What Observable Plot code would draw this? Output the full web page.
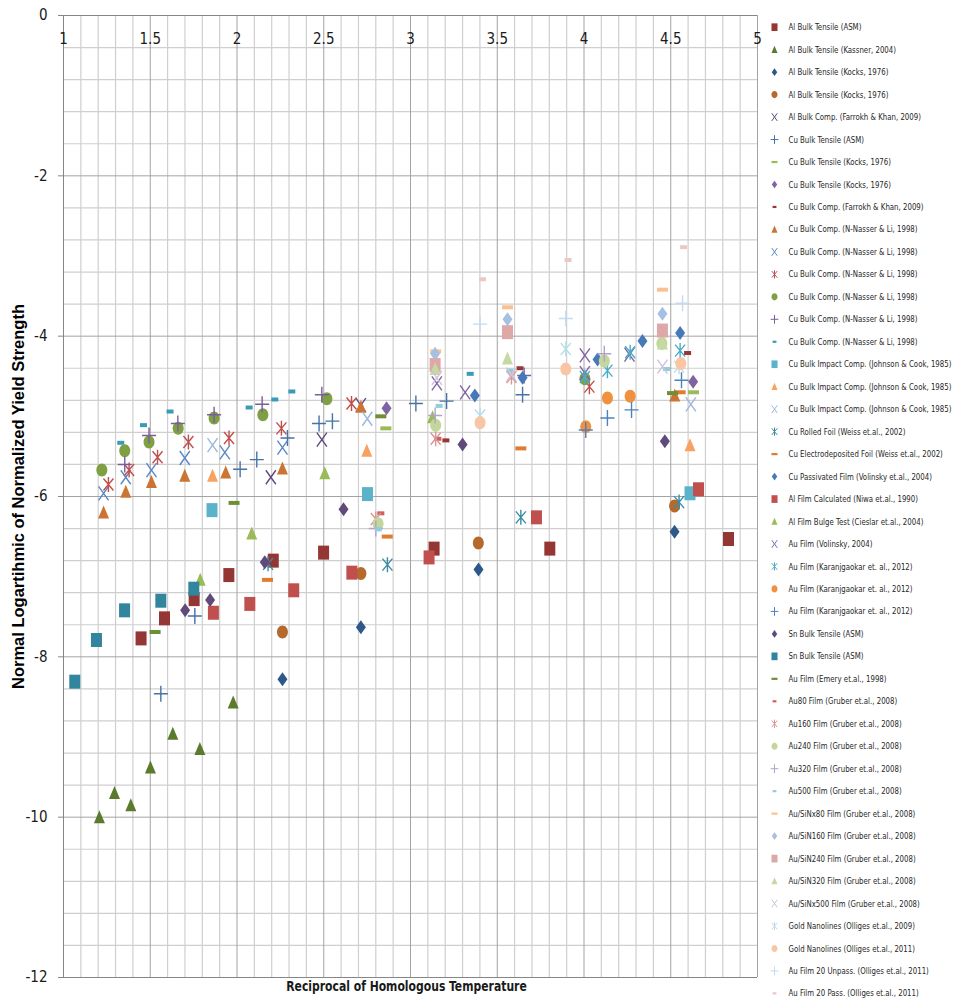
<!DOCTYPE html>
<html><head><meta charset="utf-8">
<script src="https://cdn.jsdelivr.net/npm/d3@7"></script>
<script src="https://cdn.jsdelivr.net/npm/@observablehq/plot@0.6"></script>
<style>
body{margin:0;background:#fff;}
#wrap{position:relative;width:959px;height:1004px;overflow:hidden;background:#fff;}
#main{position:absolute;left:0;top:0;}
#legend{position:absolute;left:765px;top:0;}
#legend svg{overflow:visible;}
</style></head><body><div id="wrap"><div id="main"></div><div id="legend"></div></div>
<script>
// ---- axis ticks ----
const xMajor = [1, 1.5, 2, 2.5, 3, 3.5, 4, 4.5, 5];
const xTickLabels = ["1", "1.5", "2", "2.5", "3", "3.5", "4", "4.5", "5"];
const yMajor = [0, -2, -4, -6, -8, -10, -12];
const yTickLabels = ["0", "-2", "-4", "-6", "-8", "-10", "-12"];

// ---- series names (legend order) ----
const seriesNames = [
  "Al Bulk Tensile (ASM)",
  "Al Bulk Tensile (Kassner, 2004)",
  "Al Bulk Tensile (Kocks, 1976)",
  "Al Bulk Tensile (Kocks, 1976)",
  "Al Bulk Comp. (Farrokh & Khan, 2009)",
  "Cu Bulk Tensile (ASM)",
  "Cu Bulk Tensile (Kocks, 1976)",
  "Cu Bulk Tensile (Kocks, 1976)",
  "Cu Bulk Comp. (Farrokh & Khan, 2009)",
  "Cu Bulk Comp. (N-Nasser & Li, 1998)",
  "Cu Bulk Comp. (N-Nasser & Li, 1998)",
  "Cu Bulk Comp. (N-Nasser & Li, 1998)",
  "Cu Bulk Comp. (N-Nasser & Li, 1998)",
  "Cu Bulk Comp. (N-Nasser & Li, 1998)",
  "Cu Bulk Comp. (N-Nasser & Li, 1998)",
  "Cu Bulk Impact Comp. (Johnson & Cook, 1985)",
  "Cu Bulk Impact Comp. (Johnson & Cook, 1985)",
  "Cu Bulk Impact Comp. (Johnson & Cook, 1985)",
  "Cu Rolled Foil (Weiss et.al., 2002)",
  "Cu Electrodeposited Foil (Weiss et.al., 2002)",
  "Cu Passivated Film (Volinsky et.al., 2004)",
  "Al Film Calculated (Niwa et.al., 1990)",
  "Al Film Bulge Test (Cieslar et.al., 2004)",
  "Au Film (Volinsky, 2004)",
  "Au Film (Karanjgaokar et. al., 2012)",
  "Au Film (Karanjgaokar et. al., 2012)",
  "Au Film (Karanjgaokar et. al., 2012)",
  "Sn Bulk Tensile (ASM)",
  "Sn Bulk Tensile (ASM)",
  "Au Film (Emery et.al., 1998)",
  "Au80 Film (Gruber et.al., 2008)",
  "Au160 Film (Gruber et.al., 2008)",
  "Au240 Film (Gruber et.al., 2008)",
  "Au320 Film (Gruber et.al., 2008)",
  "Au500 Film (Gruber et.al., 2008)",
  "Au/SiNx80 Film (Gruber et.al., 2008)",
  "Au/SiN160 Film (Gruber et.al., 2008)",
  "Au/SiN240 Film (Gruber et.al., 2008)",
  "Au/SiN320 Film (Gruber et.al., 2008)",
  "Au/SiNx500 Film (Gruber et.al., 2008)",
  "Gold Nanolines (Olliges et.al., 2009)",
  "Gold Nanolines (Olliges et.al., 2011)",
  "Au Film 20 Unpass. (Olliges et.al., 2011)",
  "Au Film 20 Pass. (Olliges et.al., 2011)"
];
const seriesShapes = ["sq","tri","dia","circ","x","plus","dash","dia","dashS","tri","x","ast","circ","plus","dashS",
  "sq","tri","x","ast","dash","dia","sq","tri","x","ast","circ","plus","dia","sq","dash",
  "dashS","ast","circ","plus","dashS","dash","dia","sq","tri","x","ast","circ","plus","dashS"];
const seriesColors = ["#943634","#5A7A2C","#2D5889","#B5692C","#604A7B","#4572A7","#9BBB59","#8064A2","#953735","#CC7433",
  "#5B87C5","#C0504D","#7F9F43","#7B5D9E","#3A9BB6","#5BB3CB","#F8A262","#9BB7DE","#3A8CA4","#E07B30",
  "#4579B8","#C0504D","#9BBB59","#8064A2","#4BACC6","#F0913F","#4F81BD","#604A7B","#31859C","#6F8F37",
  "#D0605E","#D99694","#C3D69B","#B3A2C7","#93CDDD","#FAC090","#A7BFE0","#DCA9A8","#C6D9A2","#CCC1DA",
  "#B7DEE8","#F9C6A5","#C6D9F1","#EBC8C7"];

// ---- series values [x, y] ----
const alBulkTensileASM = [[1.447,-7.77],[1.582,-7.52],[1.753,-7.28],[1.953,-6.98],[2.209,-6.80],[2.499,-6.70],[3.136,-6.65],[3.803,-6.65],[4.833,-6.53]];
const alBulkTensileKassner = [[1.207,-10.00],[1.294,-9.70],[1.388,-9.85],[1.501,-9.38],[1.630,-8.96],[1.786,-9.15],[1.978,-8.57]];
const alBulkTensileKocksA = [[2.262,-8.28],[2.714,-7.63],[3.392,-6.91],[4.522,-6.44]];
const alBulkTensileKocksB = [[2.262,-7.69],[2.714,-6.96],[3.391,-6.58],[4.522,-6.12]];
const alBulkCompFarrokh = [[2.195,-5.76],[2.489,-5.29],[2.714,-4.86]];
const cuBulkTensileASM = [[1.561,-8.46],[1.757,-7.49],[2.018,-5.66],[2.114,-5.54],[2.291,-5.27],[2.473,-5.09],[2.550,-5.06],[3.031,-4.84],[3.208,-4.81],[3.646,-4.73]];
const cuBulkTensileKocksA = [[2.858,-5.15],[4.631,-4.70]];
const cuBulkTensileKocksB = [[2.862,-4.90],[4.629,-4.57]];
const cuBulkCompFarrokh = [[3.204,-5.30],[3.631,-4.40],[4.597,-4.21]];
const cuNasserA = [[1.231,-6.20],[1.359,-5.94],[1.507,-5.82],[1.699,-5.74],[1.935,-5.70],[2.262,-5.65],[2.714,-4.88],[4.523,-4.74]];
const cuNasserB = [[1.231,-5.96],[1.359,-5.76],[1.507,-5.67],[1.699,-5.52],[1.930,-5.45],[2.262,-5.39]];
const cuNasserC = [[1.259,-5.85],[1.378,-5.67],[1.542,-5.51],[1.720,-5.32],[1.954,-5.27],[2.256,-5.15],[2.660,-4.84],[4.031,-4.63]];
const cuNasserD = [[1.221,-5.67],[1.353,-5.43],[1.493,-5.32],[1.661,-5.15],[1.868,-5.02],[2.149,-4.98],[2.518,-4.78],[4.005,-4.53]];
const cuNasserE = [[1.353,-5.60],[1.493,-5.24],[1.659,-5.09],[1.868,-4.98],[2.145,-4.85],[2.489,-4.73],[3.655,-4.49]];
const cuNasserF = [[1.330,-5.33],[1.461,-5.11],[1.614,-4.94],[2.070,-4.89],[2.218,-4.79],[2.316,-4.69],[3.344,-4.47]];
const cuImpactA = [[1.856,-6.17],[2.752,-5.97],[4.611,-5.96]];
const cuImpactB = [[1.859,-5.74],[2.748,-5.43],[4.611,-5.36]];
const cuImpactC = [[1.859,-5.36],[2.751,-5.03],[4.616,-4.85]];
const cuRolledFoil = [[2.179,-6.84],[2.867,-6.85],[3.636,-6.26],[4.548,-6.07]];
const cuElectroFoil = [[2.176,-7.04],[2.866,-6.50],[3.636,-5.40],[4.554,-4.70]];
const cuPassivated = [[3.371,-4.74],[3.646,-4.52],[4.078,-4.29],[4.337,-4.06],[4.554,-3.96]];
const alFilmNiwa = [[1.864,-7.45],[2.074,-7.34],[2.327,-7.17],[2.662,-6.95],[3.107,-6.76],[3.726,-6.26],[4.660,-5.91]];
const alFilmBulge = [[1.788,-7.04],[2.085,-6.46],[2.506,-5.71],[3.127,-5.01]];
const auFilmVolinsky = [[3.152,-4.59],[3.315,-4.70],[4.005,-4.24],[4.262,-4.23],[4.005,-4.46]];
const auKaranA = [[4.005,-4.51],[4.135,-4.43],[4.266,-4.20],[4.554,-4.18]];
const auKaranB = [[4.010,-5.13],[4.135,-4.77],[4.266,-4.75]];
const auKaranC = [[4.010,-5.17],[4.135,-5.02],[4.274,-4.92],[4.562,-4.55]];
const snBulkA = [[1.701,-7.42],[1.845,-7.29],[2.160,-6.82],[2.614,-6.16],[3.300,-5.35],[4.466,-5.31]];
const snBulkB = [[1.065,-8.31],[1.190,-7.79],[1.352,-7.42],[1.561,-7.30],[1.751,-7.15]];
const auFilmEmery = [[1.528,-7.69],[1.983,-6.08],[2.829,-5.00],[4.510,-4.71]];
const au80 = [[2.829,-6.21],[3.158,-5.28]];
const au160 = [[2.800,-6.28],[3.145,-5.28],[3.582,-4.51]];
const au240 = [[2.813,-6.34],[3.145,-5.11],[4.117,-4.31],[4.449,-4.09]];
const au320 = [[2.800,-6.40],[3.142,-4.99],[4.117,-4.22]];
const au500 = [[2.814,-6.41],[3.165,-4.87],[3.574,-4.43],[4.475,-4.41]];
const auSiN80 = [[3.145,-4.19],[3.559,-3.64],[4.452,-3.42]];
const auSiN160 = [[3.142,-4.22],[3.559,-3.79],[4.452,-3.72]];
const auSiN240 = [[3.142,-4.36],[3.559,-3.95],[4.452,-3.93]];
const auSiN320 = [[3.142,-4.41],[3.559,-4.28],[4.452,-4.09]];
const auSiN500 = [[3.152,-4.52],[3.582,-4.48],[4.452,-4.38]];
const goldNano2009 = [[3.401,-4.99],[3.895,-4.16],[4.548,-4.38]];
const goldNano2011 = [[3.401,-5.08],[3.895,-4.41],[4.558,-4.34]];
const auFilm20Unpass = [[3.401,-3.85],[3.895,-3.78],[4.568,-3.59]];
const auFilm20Pass = [[3.415,-3.29],[3.908,-3.05],[4.574,-2.89]];

const seriesData = [alBulkTensileASM, alBulkTensileKassner, alBulkTensileKocksA, alBulkTensileKocksB, alBulkCompFarrokh,
  cuBulkTensileASM, cuBulkTensileKocksA, cuBulkTensileKocksB, cuBulkCompFarrokh,
  cuNasserA, cuNasserB, cuNasserC, cuNasserD, cuNasserE, cuNasserF,
  cuImpactA, cuImpactB, cuImpactC, cuRolledFoil, cuElectroFoil, cuPassivated, alFilmNiwa, alFilmBulge,
  auFilmVolinsky, auKaranA, auKaranB, auKaranC, snBulkA, snBulkB, auFilmEmery,
  au80, au160, au240, au320, au500, auSiN80, auSiN160, auSiN240, auSiN320, auSiN500,
  goldNano2009, goldNano2011, auFilm20Unpass, auFilm20Pass];

// ---- marker shapes (Excel-like) ----
function ellipse(c, rx, ry) {
  const k = 0.5523;
  c.moveTo(rx, 0);
  c.bezierCurveTo(rx, ry*k, rx*k, ry, 0, ry);
  c.bezierCurveTo(-rx*k, ry, -rx, ry*k, -rx, 0);
  c.bezierCurveTo(-rx, -ry*k, -rx*k, -ry, 0, -ry);
  c.bezierCurveTo(rx*k, -ry, rx, -ry*k, rx, 0);
  c.closePath();
}
function makeShapes(k) {
  return {
    sq: {draw(c){ c.rect(-5.5*k, -7*k, 11*k, 14*k); }},
    tri: {draw(c){ c.moveTo(0, -7*k); c.lineTo(5.5*k, 6*k); c.lineTo(-5.5*k, 6*k); c.closePath(); }},
    dia: {draw(c){ c.moveTo(0, -7*k); c.lineTo(5*k, 0); c.lineTo(0, 7*k); c.lineTo(-5*k, 0); c.closePath(); }},
    circ: {draw(c){ ellipse(c, 5.5*k, 6.5*k); }},
    dash: {draw(c){ c.rect(-5.5*k, -2*k, 11*k, 4*k); }},
    dashS: {draw(c){ c.rect(-3.5*k, -2*k, 7*k, 4*k); }},
    x: {draw(c){ c.moveTo(-5*k, -7*k); c.lineTo(5*k, 7*k); c.moveTo(-5*k, 7*k); c.lineTo(5*k, -7*k); }},
    ast: {draw(c){ c.moveTo(-5*k, -6*k); c.lineTo(5*k, 6*k); c.moveTo(-5*k, 6*k); c.lineTo(5*k, -6*k); c.moveTo(0, -7.5*k); c.lineTo(0, 7.5*k); }},
    plus: {draw(c){ c.moveTo(-7*k, 0); c.lineTo(7*k, 0); c.moveTo(0, -8*k); c.lineTo(0, 8*k); }}
  };
}
const strokeShapes = new Set(["x", "ast", "plus"]);
const bigShapes = makeShapes(1);
const smallShapes = makeShapes(0.55);

const narrow = "'Liberation Sans Narrow', 'Arial Narrow', 'DejaVu Sans Condensed', sans-serif";

// squeeze texts horizontally around their anchor point
function squeeze(svg, k, filter) {
  svg.querySelectorAll("text").forEach(t => {
    if (filter && !filter(t)) return;
    let tr = t.getAttribute("transform") || "";
    const xa = t.getAttribute("x");
    const x = xa == null ? NaN : Number(xa);
    if (!isNaN(x)) {
      tr = `translate(${x},0) ` + tr;
      t.removeAttribute("x");
    }
    t.setAttribute("transform", tr + ` scale(${k},1)`);
  });
}

const xMinor = d3.range(11, 50).filter(v => v % 5 !== 0).map(v => v / 10);
const yMinor = d3.range(1, 30).filter(i => i % 5 !== 0).map(i => -0.4 * i);

const dataMarks = seriesData.map((arr, i) => {
  const sh = seriesShapes[i];
  const isStroke = strokeShapes.has(sh);
  return Plot.dot(arr, {
    x: d => d[0], y: d => d[1], r: 6,
    symbol: bigShapes[sh],
    fill: isStroke ? "none" : seriesColors[i],
    stroke: isStroke ? seriesColors[i] : "none",
    strokeWidth: 1.4
  });
});

const xTitle = "Reciprocal of Homologous Temperature";
const main = Plot.plot({
  width: 765, height: 1004,
  marginLeft: 63, marginRight: 8, marginTop: 15, marginBottom: 27,
  style: {background: "white", fontFamily: narrow},
  x: {domain: [1, 5], axis: null},
  y: {domain: [-12, 0], axis: null},
  marks: [
    Plot.ruleX(xMinor, {stroke: "#cfcfcf", strokeWidth: 1.2}),
    Plot.ruleY(yMinor, {stroke: "#cfcfcf", strokeWidth: 1.2}),
    Plot.ruleX(xMajor, {stroke: "#a3a3a3", strokeWidth: 1}),
    Plot.ruleY(yMajor, {stroke: "#a3a3a3", strokeWidth: 1}),
    Plot.ruleX([1], {stroke: "#868686", strokeWidth: 1}),
    Plot.ruleY([0, -12], {stroke: "#868686", strokeWidth: 1}),
    Plot.axisY({ticks: yMajor, tickSize: 5, tickFormat: () => "", label: null, stroke: "#868686"}),
    ...dataMarks,
    Plot.text(xMajor, {x: d => d, y: 0, dy: 24, text: (d, i) => xTickLabels[i], fontSize: 15, fill: "#1a1a1a", fontFamily: narrow}),
    Plot.text(yMajor, {x: 1, y: d => d, dx: -16, textAnchor: "end", text: (d, i) => yTickLabels[i], fontSize: 15, fill: "#1a1a1a", fontFamily: narrow}),
    Plot.text(["Normal Logartihmic of Normalized Yield Strength"], {frameAnchor: "left", textAnchor: "middle", rotate: -90, dx: -45, fontSize: 16.5, fontWeight: "bold", fill: "#000", fontFamily: "'Liberation Sans', Arial, sans-serif"}),
    Plot.text([xTitle], {frameAnchor: "bottom", textAnchor: "middle", dy: 13, dx: -4, fontSize: 14, fontWeight: "bold", fill: "#1a1a1a", fontFamily: narrow})
  ]
});
document.getElementById("main").appendChild(main);
squeeze(main, 0.86, t => t.textContent === xTitle);

// ---- legend (second Plot) ----
const idx = seriesNames.map((d, i) => i);
const legendMarks = idx.map(i => {
  const sh = seriesShapes[i];
  const isStroke = strokeShapes.has(sh);
  return Plot.dot([i], {
    y: d => d, frameAnchor: "left", dx: 9, r: 4,
    symbol: smallShapes[sh],
    fill: isStroke ? "none" : seriesColors[i],
    stroke: isStroke ? seriesColors[i] : "none",
    strokeWidth: 1
  });
});
const legend = Plot.plot({
  width: 194, height: 1004,
  margin: 0,
  style: {background: "transparent", fontFamily: narrow},
  y: {domain: [0, 43], range: [26.7, 992.9], axis: null},
  marks: [
    ...legendMarks,
    Plot.text(idx, {y: d => d, frameAnchor: "left", dx: 23, textAnchor: "start", text: d => seriesNames[d], fontSize: 9.5, fill: "#262626", fontFamily: narrow})
  ]
});
document.getElementById("legend").appendChild(legend);
squeeze(legend, 0.82);
</script></body></html>
